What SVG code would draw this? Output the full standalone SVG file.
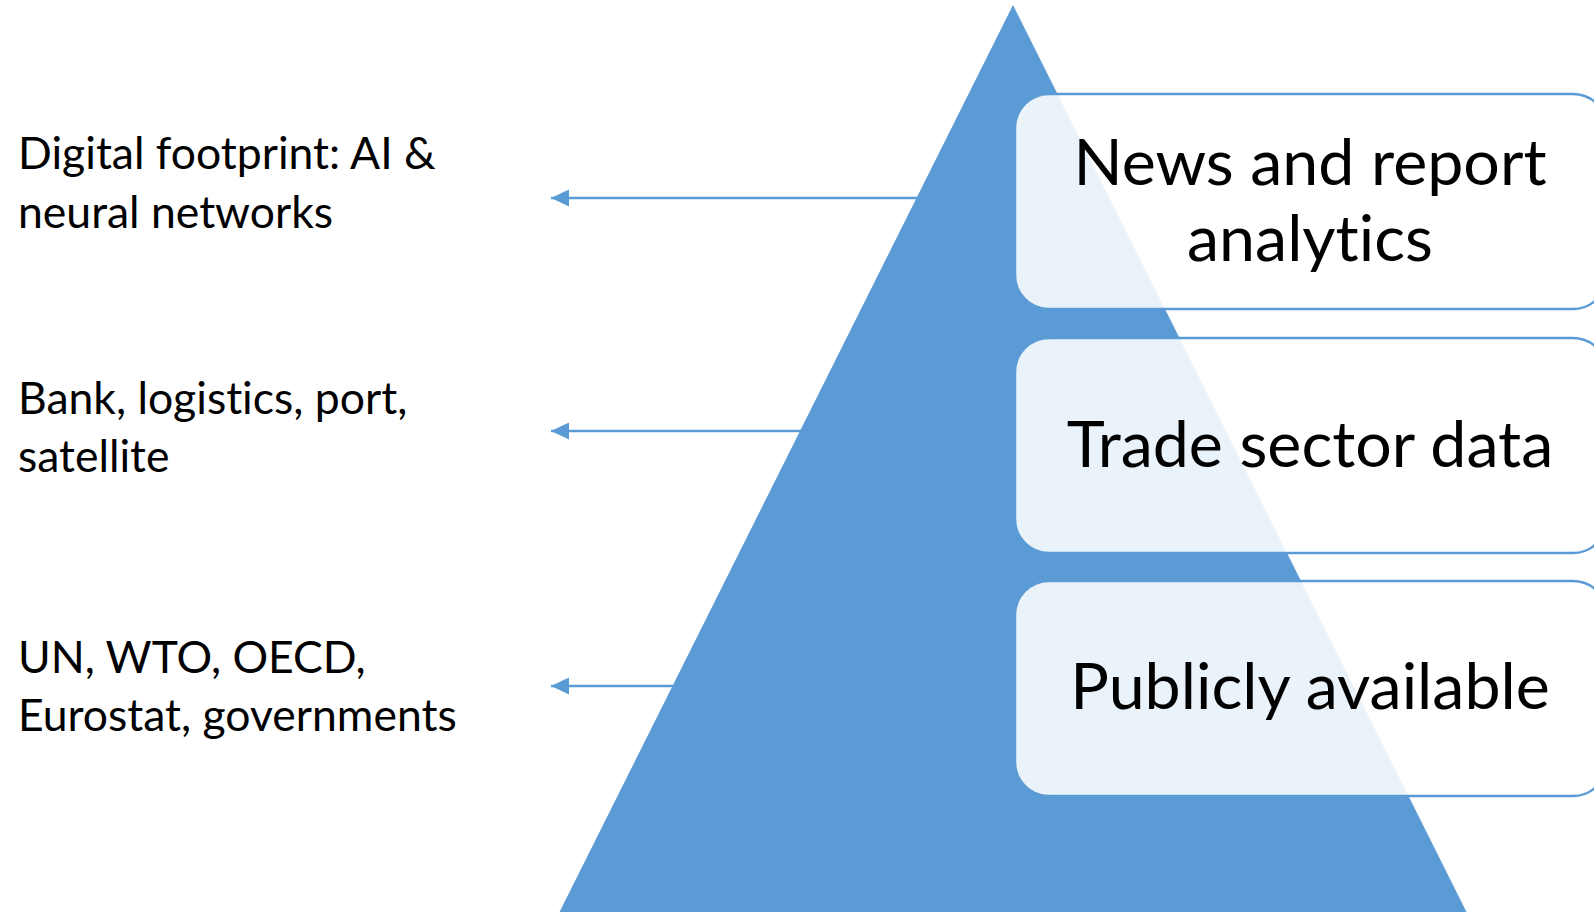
<svg xmlns="http://www.w3.org/2000/svg" width="1594" height="912" viewBox="0 0 1594 912">
<defs>
<style>
.tri{fill:#5B9BD5}
.box{fill:#FFFFFF;fill-opacity:0.88;stroke:#5B9BD5;stroke-width:2.5}
.big{font-family:Lato,"Open Sans",sans-serif;font-size:64.5px;fill:#000;text-anchor:middle;font-variant-ligatures:none}
.lbl{font-family:Lato,"Open Sans",sans-serif;font-size:44.5px;fill:#000;font-variant-ligatures:none}
.conn{stroke:#5B9BD5;stroke-width:2.5;fill:none;marker-end:url(#ah)}
</style>
<marker id="ah" markerUnits="userSpaceOnUse" markerWidth="18" markerHeight="18" viewBox="0 0 16 16" refX="16" refY="8" orient="auto">
<path d="M0,0.5 L16,8 L0,15.5 Z" fill="#5B9BD5"/>
</marker>
</defs>
<rect width="1594" height="912" fill="#FFFFFF"/>
<g id="pyramid"><polygon class="tri" points="1013,5 559,913 1467,913"/></g>
<g id="connectors">
<line class="conn" x1="917" y1="198" x2="551" y2="198"/>
<line class="conn" x1="801" y1="431" x2="551" y2="431"/>
<line class="conn" x1="674" y1="686" x2="551" y2="686"/>
</g>
<g id="box-news"><rect class="box" x="1015" y="94" width="592" height="215" rx="34"/>
<text class="big" x="1310" y="185">News and report</text>
<text class="big" x="1310" y="261">analytics</text></g>
<g id="box-trade"><rect class="box" x="1015" y="338" width="592" height="215" rx="34"/>
<text class="big" x="1310" y="467">Trade sector data</text></g>
<g id="box-public"><rect class="box" x="1015" y="581" width="592" height="215" rx="34"/>
<text class="big" x="1310" y="709">Publicly available</text></g>
<g id="label-digital"><text class="lbl" x="18" y="169">Digital footprint: AI &amp;</text><text class="lbl" x="18" y="228">neural networks</text></g>
<g id="label-bank"><text class="lbl" x="18" y="414">Bank, logistics, port,</text><text class="lbl" x="18" y="472">satellite</text></g>
<g id="label-un"><text class="lbl" x="18" y="673">UN, WTO, OECD,</text><text class="lbl" x="18" y="731">Eurostat, governments</text></g>
</svg>
